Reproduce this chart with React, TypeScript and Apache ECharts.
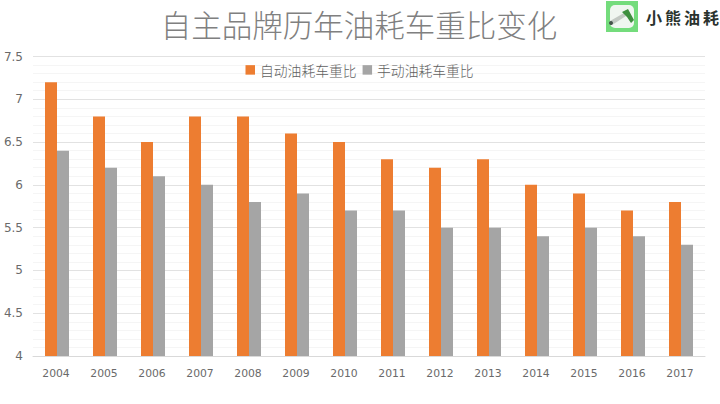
import React, { useEffect, useRef } from 'react';
import * as echarts from 'echarts';

const years = ['2004', '2005', '2006', '2007', '2008', '2009', '2010', '2011', '2012', '2013', '2014', '2015', '2016', '2017'];
const autoRatio = [7.2, 6.8, 6.5, 6.8, 6.8, 6.6, 6.5, 6.3, 6.2, 6.3, 6.0, 5.9, 5.7, 5.8];
const manualRatio = [6.4, 6.2, 6.1, 6.0, 5.8, 5.9, 5.7, 5.7, 5.5, 5.5, 5.4, 5.5, 5.4, 5.3];
const logoChars = ['小', '熊', '油', '耗'];

const font = '"Noto Sans CJK SC", "Noto Sans", sans-serif';
const axisFont = '"DejaVu Sans", sans-serif';

const App = () => {
  const chartRef = useRef<HTMLDivElement>(null);

  useEffect(() => {
    if (!chartRef.current) return;

    const chart = echarts.init(chartRef.current, undefined, { renderer: 'svg' });

    chart.setOption({
      animation: false,
      backgroundColor: '#ffffff',
      title: {
        text: '自主品牌历年油耗车重比变化',
        left: 354,
        top: 4,
        textAlign: 'center',
        textStyle: { color: '#808080', fontSize: 30.5, fontWeight: 300, fontFamily: font },
      },
      legend: {
        top: 63,
        left: 245.5,
        padding: 0,
        itemWidth: 9.5,
        itemHeight: 9.5,
        itemGap: 6,
        icon: 'rect',
        textStyle: { color: '#5f5f5f', fontSize: 13.8, fontWeight: 300, fontFamily: font },
      },
      grid: { left: 33, right: 15, top: 56.5, bottom: 48 },
      xAxis: {
        type: 'category',
        data: years,
        axisTick: { show: false },
        axisLine: { lineStyle: { color: '#d9d9d9', width: 1 } },
        axisLabel: { color: '#6a6a6a', fontSize: 10.8, fontFamily: axisFont, margin: 12, padding: [0, 2, 0, 0] },
      },
      yAxis: {
        type: 'value',
        min: 4,
        max: 7.5,
        interval: 0.5,
        axisLine: { show: false },
        axisTick: { show: false },
        axisLabel: {
          color: '#6a6a6a',
          fontSize: 12,
          fontFamily: axisFont,
          margin: 10,
          formatter: (v: number) => String(v),
        },
        splitLine: { lineStyle: { color: '#e2e2e2', width: 1 } },
        minorTick: { show: false, splitNumber: 5 },
        minorSplitLine: { show: true, lineStyle: { color: '#f5f5f5', width: 1 } },
      },
      series: [
        {
          name: '自动油耗车重比',
          type: 'bar',
          data: autoRatio,
          barWidth: 12,
          barGap: '0%',
          itemStyle: { color: '#ed7d31' },
        },
        {
          name: '手动油耗车重比',
          type: 'bar',
          data: manualRatio,
          barWidth: 12,
          itemStyle: { color: '#a5a5a5' },
        },
      ],
      graphic: [
        {
          type: 'group',
          silent: true,
          children: [
            { type: 'rect', shape: { x: 606, y: 1, width: 32, height: 31 }, style: { fill: '#74dc7c' } },
            { type: 'rect', shape: { x: 610, y: 5, width: 24, height: 23, r: 5 }, style: { fill: '#f0f6f0' } },
            { type: 'polygon', shape: { points: [[610, 21], [624, 13], [626, 16], [612, 25]] }, style: { fill: '#c3c9c3' } },
            { type: 'polygon', shape: { points: [[622, 12], [628, 9], [634, 20], [631, 23], [627, 17]] }, style: { fill: '#3f8f3f' } },
            { type: 'circle', shape: { cx: 611, cy: 23, r: 2 }, style: { fill: '#44534a' } },
            ...logoChars.map((ch, i) => ({
              type: 'text',
              x: 646 + i * 19,
              y: 9,
              style: { text: ch, fill: '#2a322d', font: `700 16px ${font}` },
            })),
          ],
        },
      ],
    });

    return () => {
      chart.dispose();
    };
  }, []);

  return <div ref={chartRef} style={{ position: 'fixed', left: 0, top: 0, width: 720, height: 404 }} />;
};

export default App;
